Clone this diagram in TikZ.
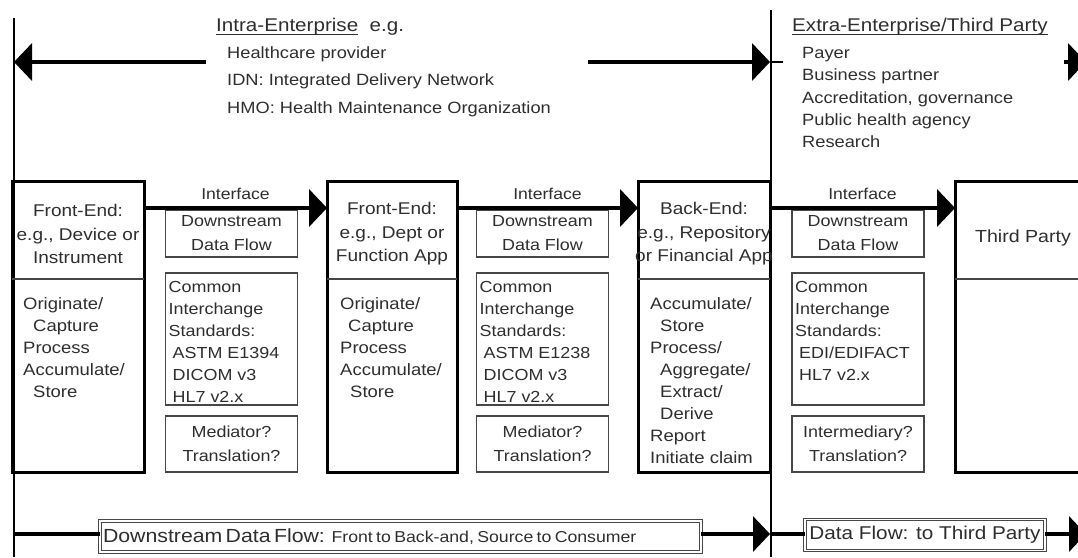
\documentclass[tikz,border=0pt]{standalone}
\usepackage{fontspec}
\setmainfont{Liberation Sans}[FakeStretch=1.12]
\usepackage{tikz}
\usetikzlibrary{arrows.meta}
\colorlet{ink}{black!82}
\colorlet{rule}{black!72}
\tikzset{
  bigbox/.style={draw=black,line width=3pt,minimum width=132pt,minimum height=291pt,anchor=north west,outer sep=0pt,inner sep=0pt},
  ibox/.style={draw=rule,line width=1.4pt,minimum width=132pt,outer sep=0pt,inner sep=0pt,text=ink,align=center,font=\fontsize{16}{24}\selectfont},
  hdr/.style={text=ink,align=center,inner sep=0pt,font=\fontsize{17}{23.5}\selectfont},
  body/.style={text=ink,align=left,inner sep=0pt,anchor=north west,font=\fontsize{16.5}{22}\selectfont},
  lbl/.style={text=ink,inner sep=0pt,font=\fontsize{15.7}{18}\selectfont},
  head/.style={text=ink,inner sep=0pt,anchor=base west,font=\fontsize{18.4}{22}\selectfont},
  flow/.style={line width=4pt,-{Triangle[length=18pt,width=37pt]}},
  bline/.style={line width=3.5pt},
  vline/.style={line width=2pt},
  divl/.style={draw=rule,line width=1.4pt},
  uline/.style={line width=1.6pt,draw=ink},
  fbox/.style={draw=rule,line width=1pt,double=white,double distance=1.3pt,minimum height=31pt,inner sep=0pt,outer sep=0pt,text=ink}
}
% one interface column: name, x centre, standards, question box
\newcommand{\iface}[4]{%
  \node[ibox,minimum height=47pt] (#1d) at (#2,233.5) {Downstream\\Data Flow};
  \node[ibox,minimum height=132pt] (#1s) at (#2,339) {};
  \node[body,font=\fontsize{16}{22}\selectfont] (#1t) at ([xshift=3pt,yshift=-8pt]#1s.north west) {Common\\Interchange\\Standards:\\\hspace*{4pt}#3};
  \node[ibox,minimum height=56pt] (#1q) at (#2,444) {#4};
}

\begin{document}
\begin{tikzpicture}[x=1pt,y=-1pt]
  \useasboundingbox (0,0) rectangle (1078,557);
  % enterprise borders
  \coordinate (vl1t) at (14,18);
  \coordinate (vl1b) at (14,557);
  \coordinate (vl2t) at (771,10);
  \coordinate (vl2b) at (771,557);
  \draw[vline] (vl1t) -- (vl1b);
  \draw[vline] (vl2t) -- (vl2b);

  % top headings
  \node[head] (ihead) at (216,31) {Intra-Enterprise};
  \node[head] (ieg) at ([xshift=11pt]ihead.base east) {e.g.};
  \draw[uline] ([yshift=-3.5pt]ihead.base west) -- ([yshift=-3.5pt]ihead.base east);
  \node[head,anchor=north west,align=left,font=\fontsize{16.3}{27.5}\selectfont] (ilist) at (227,46) {Healthcare provider\\IDN: Integrated Delivery Network\\HMO: Health Maintenance Organization};
  \node[head] (xhead) at (792,31) {Extra-Enterprise/Third Party};
  \draw[uline] ([yshift=-3.5pt]xhead.base west) -- ([yshift=-3.5pt]xhead.base east);
  \node[head,anchor=north west,align=left,font=\fontsize{16.3}{22.3}\selectfont] (xlist) at (802,47) {Payer\\Business partner\\Accreditation, governance\\Public health agency\\Research};

  \coordinate (tl) at (14,62);
  \coordinate (tla) at (206,62);
  \coordinate (tra) at (588,62);
  \coordinate (trb) at (770,62);
  \coordinate (dsh1) at (772,62);
  \coordinate (dsh2) at (783,62);
  \coordinate (trc) at (1064,62);
  \coordinate (trd) at (1086,62);
  \draw[flow] (tla) -- (tl);
  \draw[flow] (tra) -- (trb);
  \draw[line width=2.5pt] (dsh1) -- (dsh2);
  \draw[flow] (trc) -- (trd);

  % systems
  \node[bigbox] (fe1) at (12,181) {};
  \node[bigbox,minimum width=130pt] (fe2) at (327,181) {};
  \node[bigbox] (be) at (638,181) {};
  \node[bigbox,minimum width=140pt] (tp) at (955,181) {};
  \foreach \b in {fe1,fe2,be,tp}
    \draw[divl] ([yshift=-98pt]\b.north west) -- ([yshift=-98pt]\b.north east);

  \node[hdr] (fe1h) at ([yshift=-53pt]fe1.north) {Front-End:\\e.g., Device or\\Instrument};
  \node[hdr] (fe2h) at ([yshift=-53pt]fe2.north) {Front-End:\\e.g., Dept or\\Function App};
  \node[hdr] (beh) at ([yshift=-53pt]be.north) {Back-End:\\e.g., Repository\\or Financial App};
  \node[hdr,font=\fontsize{17.5}{22}\selectfont] (tph) at ([xshift=68pt,yshift=-57pt]tp.north west) {Third Party};

  \node[body] (fe1b) at ([xshift=11pt,yshift=-116pt]fe1.north west) {Originate/\\\hspace*{10pt}Capture\\Process\\Accumulate/\\\hspace*{10pt}Store};
  \node[body] (fe2b) at ([xshift=13pt,yshift=-116pt]fe2.north west) {Originate/\\\hspace*{8pt}Capture\\Process\\Accumulate/\\\hspace*{10pt}Store};
  \node[body] (beb) at ([xshift=12pt,yshift=-116pt]be.north west) {Accumulate/\\\hspace*{10pt}Store\\Process/\\\hspace*{10pt}Aggregate/\\\hspace*{10pt}Extract/\\\hspace*{10pt}Derive\\Report\\Initiate claim};

  % interfaces
  \iface{ia}{231.5}{ASTM E1394\\\hspace*{4pt}DICOM v3\\\hspace*{4pt}HL7 v2.x}{Mediator?\\Translation?}
  \iface{ib}{542.5}{ASTM E1238\\\hspace*{4pt}DICOM v3\\\hspace*{4pt}HL7 v2.x}{Mediator?\\Translation?}
  \iface{ic}{858}{EDI/EDIFACT\\\hspace*{4pt}HL7 v2.x}{Intermediary?\\Translation?}

  \draw[flow] ([yshift=-27pt]fe1.north east) -- node[lbl,above=6pt] (ifa) {Interface} ([yshift=-27pt]fe2.north west);
  \draw[flow] ([yshift=-27pt]fe2.north east) -- node[lbl,above=6pt] (ifb) {Interface} ([yshift=-27pt]be.north west);
  \draw[flow] ([yshift=-27pt]be.north east) -- node[lbl,above=6pt] (ifc) {Interface} ([yshift=-27pt]tp.north west);

  % bottom data flow
  \coordinate (bl) at (14,534);
  \coordinate (bm) at (770,534);
  \coordinate (bm2) at (772,534);
  \coordinate (br) at (1086,534);
  \node[fbox,text width=595pt,align=left,inner xsep=3pt] (dsf) at (400.5,536.5) {\fontsize{19}{20}\selectfont Downstream Data Flow:\ \ {\fontsize{15.8}{20}\selectfont Front to Back-and, Source to Consumer}};
  \node[fbox,minimum width=240pt,font=\fontsize{18.5}{20}\selectfont] (tpf) at (925,535) {Data Flow: to Third Party};
  \draw[bline] (bl) -- (bl -| dsf.west);
  \draw[bline,-{Triangle[length=17pt,width=35pt]}] (bm -| dsf.east) -- (bm);
  \draw[bline] (bm2) -- (bm2 -| tpf.west);
  \draw[bline,-{Triangle[length=17pt,width=35pt]}] (br -| tpf.east) -- (br);
\end{tikzpicture}
\end{document}
